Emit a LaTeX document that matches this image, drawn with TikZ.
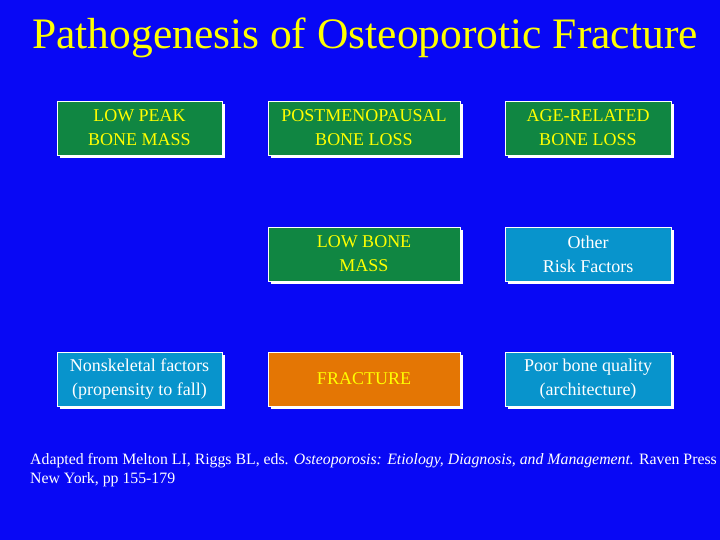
\documentclass[tikz,border=0pt]{standalone}
\usepackage{fontspec}
\setmainfont{Liberation Serif}
\usetikzlibrary{positioning}
\definecolor{slideblue}{RGB}{8,8,245}
\definecolor{boxgreen}{RGB}{16,134,66}
\definecolor{boxorange}{RGB}{228,118,4}
\definecolor{boxcyan}{RGB}{8,148,204}
\definecolor{titleyellow}{RGB}{255,255,0}

\begin{document}
\begin{tikzpicture}[
  x=1pt, y=-1pt,
  box/.style={rectangle, draw=white, line width=0.8pt, minimum height=54pt, align=center,
    inner sep=0pt, font=\fontsize{18}{24}\selectfont,
    preaction={fill=white, transform canvas={shift={(3pt,-3pt)}}}},
  risk/.style={box, fill=boxgreen, text=titleyellow},
  event/.style={box, fill=boxorange, text=titleyellow},
  other/.style={box, fill=boxcyan, text=white}
]
\fill[slideblue] (0,0) rectangle (720,540);
\useasboundingbox (0,0) rectangle (720,540);

\node[text=titleyellow, font=\fontsize{43.5}{46}\selectfont] (title) at (365,38) {Pathogenesis of Osteoporotic Fracture};

% top row
\node[risk, minimum width=165pt] (peak) at (139.5,128) {LOW PEAK\\BONE MASS};
\node[risk, minimum width=192pt] (meno) at (364,128) {POSTMENOPAUSAL\\BONE LOSS};
\node[risk, minimum width=166pt] (age) at (588,128) {AGE-RELATED\\BONE LOSS};
% middle row
\node[risk, minimum width=192pt] (lowmass) at (364,254) {LOW BONE\\MASS};
\node[other, minimum width=166pt] (risk) at (588,254) {Other\\Risk Factors};
% bottom row
\node[other, minimum width=165pt] (fall) at (139.5,379) {Nonskeletal factors\\(propensity to fall)};
\node[event, minimum width=192pt] (fracture) at (364,379) {FRACTURE};
\node[other, minimum width=166pt] (quality) at (588,379) {Poor bone quality\\(architecture)};

\node[text=white, anchor=north west, align=left, inner sep=0pt, font=\fontsize{15.8}{19}\selectfont] (source) at (30,453)
  {Adapted from Melton LI, Riggs BL, eds. \textit{Osteoporosis: Etiology, Diagnosis, and Management.} Raven Press\\New York, pp 155-179};
\end{tikzpicture}
\end{document}
